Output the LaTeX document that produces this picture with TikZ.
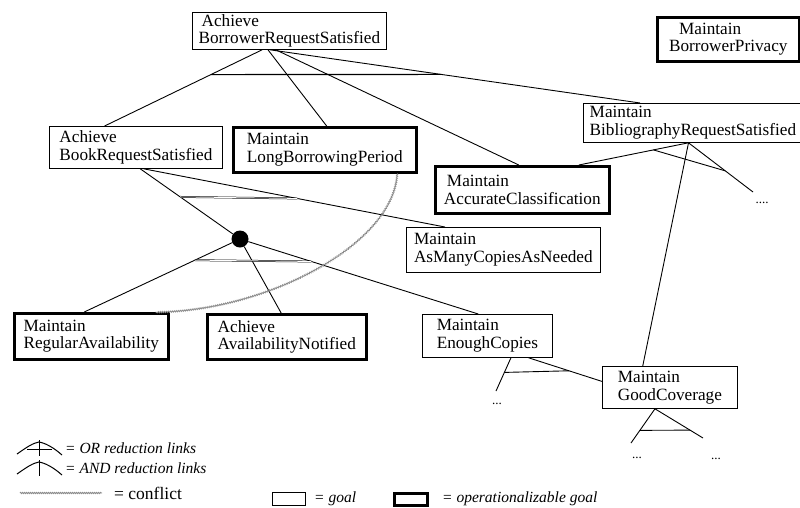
\documentclass[tikz,border=0pt]{standalone}
\usepackage{fontspec}
\setmainfont{Liberation Serif}
\usetikzlibrary{calc,decorations.pathmorphing}
\begin{document}
\begin{tikzpicture}[x=1pt,y=-1pt,
  goal/.style={draw, line width=0.8pt, inner sep=0pt, align=left, anchor=north west, font={\fontsize{17.2}{17.6}\selectfont}},
  opgoal/.style={goal, line width=2.6pt},
  link/.style={line width=0.9pt},
  arcline/.style={line width=0.5pt, double, double distance=0.8pt},
  conflict/.style={draw=black!45, line width=0.8pt, decorate, decoration={snake, segment length=2pt, amplitude=0.7pt}},
  dots/.style={font={\fontsize{13}{13}\selectfont}, inner sep=0pt},
  legend/.style={font={\fontsize{15.5}{15.5}\selectfont\itshape}, anchor=base west, inner sep=0pt},
]
\useasboundingbox (0,0) rectangle (800,507);

% goals
\node[goal, minimum width=194pt, minimum height=37pt] (root) at (192,12) {\hspace{3pt}Achieve\\BorrowerRequestSatisfied};
\node[opgoal, minimum width=142pt, minimum height=44pt] (privacy) at (656,16) {\hspace{10pt}Maintain\\BorrowerPrivacy};
\node[goal, minimum width=219pt, minimum height=39pt] (biblio) at (583,103) {Maintain\\BibliographyRequestSatisfied};
\node[goal, minimum width=173pt, minimum height=42pt] (bookreq) at (49,126) {Achieve\\BookRequestSatisfied};
\node[opgoal, minimum width=183pt, minimum height=45pt] (longb) at (232,126) {Maintain\\LongBorrowingPeriod};
\node[opgoal, minimum width=174pt, minimum height=47pt] (accur) at (434,165) {\hspace{3pt}Maintain\\AccurateClassification};
\node[goal, minimum width=194pt, minimum height=45pt] (asmany) at (406,227) {Maintain\\AsManyCopiesAsNeeded};
\node[goal, minimum width=130pt, minimum height=43pt] (enough) at (422,314) {Maintain\\EnoughCopies};
\node[goal, minimum width=135pt, minimum height=42pt] (goodcov) at (602,366) {Maintain\\GoodCoverage};
\node[opgoal, minimum width=154pt, minimum height=46pt] (regular) at (13,312) {Maintain\\RegularAvailability};
\node[opgoal, minimum width=159pt, minimum height=45pt] (notified) at (206,313) {Achieve\\AvailabilityNotified};
\node[circle, fill=black, minimum size=17pt, inner sep=0pt] (dot) at (240,239) {};

% root reduction
\coordinate (rA) at ($(root.south west)!0.36!(root.south east)$);
\coordinate (rB) at ($(root.south west)!0.39!(root.south east)$);
\coordinate (rC) at ($(root.south west)!0.43!(root.south east)$);
\coordinate (rD) at ($(root.south west)!0.40!(root.south east)$);
\coordinate (bkT) at ($(bookreq.north west)!0.32!(bookreq.north east)$);
\coordinate (lbT) at ($(longb.north west)!0.51!(longb.north east)$);
\coordinate (acT) at ($(accur.north west)!0.48!(accur.north east)$);
\coordinate (biT) at ($(biblio.north west)!0.26!(biblio.north east)$);
\draw[link] (rA) -- (bkT);
\draw[link] (rB) -- (lbT);
\draw[link] (rC) -- (acT);
\draw[link] (rD) -- (biT);
\draw[line width=1.1pt] ($(rA)!0.325!(bkT)$) -- ($(rD)!0.463!(biT)$);

% bibliography reduction
\coordinate (biB) at ($(biblio.south west)!0.48!(biblio.south east)$);
\coordinate (gcT) at ($(goodcov.north west)!0.30!(goodcov.north east)$);
\coordinate (acT2) at ($(accur.north west)!0.82!(accur.north east)$);
\coordinate (bdots) at (753,192);
\draw[link] (biB) -- (gcT);
\draw[link] (biB) -- (acT2);
\draw[link] (biB) -- (bdots);
\draw[link] ($(biB)!0.32!(acT2)$) -- ($(biB)!0.57!(bdots)$);
\node[dots] (bd) at (762,203) {....};

% book request reduction
\coordinate (bkB1) at ($(bookreq.south west)!0.525!(bookreq.south east)$);
\coordinate (bkB2) at ($(bookreq.south west)!0.545!(bookreq.south east)$);
\coordinate (amT) at ($(asmany.north west)!0.20!(asmany.north east)$);
\draw[link] (bkB1) -- (dot);
\draw[link] (bkB2) -- (amT);
\draw[arcline] ($(bkB1)!0.40!(dot.center)$) -- ($(bkB2)!0.51!(amT)$);

% dot reduction
\coordinate (raT) at ($(regular.north west)!0.455!(regular.north east)$);
\coordinate (anT) at ($(notified.north west)!0.465!(notified.north east)$);
\coordinate (ecT) at ($(enough.north west)!0.43!(enough.north east)$);
\draw[link] (dot) -- (raT);
\draw[link] (dot) -- (anT);
\draw[link] (dot) -- (ecT);
\draw[arcline] ($(dot.center)!0.29!(raT)$) -- ($(dot.center)!0.30!(ecT)$);

% enough copies reduction
\coordinate (ecB1) at ($(enough.south west)!0.68!(enough.south east)$);
\coordinate (ecB2) at ($(enough.south west)!0.815!(enough.south east)$);
\coordinate (edots) at (496,391);
\coordinate (gcL) at ($(goodcov.north west)!0.36!(goodcov.south west)$);
\draw[link] (ecB1) -- (edots);
\draw[link] (ecB2) -- (gcL);
\draw[link] ($(ecB1)!0.44!(edots)$) -- ($(ecB2)!0.55!(gcL)$);
\node[dots] (ed) at (497,404) {...};

% good coverage reduction
\coordinate (gcB) at ($(goodcov.south west)!0.39!(goodcov.south east)$);
\coordinate (gd1) at (631,443);
\coordinate (gd2) at (703,438);
\draw[link] (gcB) -- (gd1);
\draw[link] (gcB) -- (gd2);
\draw[link] ($(gcB)!0.63!(gd1)$) -- ($(gcB)!0.73!(gd2)$);
\node[dots] (gda) at (637,458) {...};
\node[dots] (gdb) at (716,459) {...};

% conflict
\coordinate (lbB) at ($(longb.south west)!0.89!(longb.south east)$);
\coordinate (raT2) at ($(regular.north west)!0.91!(regular.north east)$);
\draw[conflict] (lbB) .. controls (393,245) and (265,311) .. (raT2);

% legend
\draw[line width=1pt] (17,454) .. controls (27,447) and (33,443) .. (39,442) .. controls (45,443) and (53,447) .. (62,455);
\draw[line width=0.7pt] (27,449) -- (52,449);
\draw[line width=1pt] (39,440) -- (39,456);
\draw[line width=1pt] (17,474) .. controls (27,467) and (33,463) .. (39,462) .. controls (45,463) and (53,467) .. (62,475);
\draw[arcline] (27,468.5) -- (52,468.5);
\draw[line width=1pt] (39,460) -- (39,476);
\node[legend] (lor) at (65,453) {= OR reduction links};
\node[legend] (land) at (65,473) {= AND reduction links};
\coordinate (cfa) at (20,493);
\coordinate (cfb) at (102,493);
\draw[conflict] (cfa) -- (cfb);
\node[anchor=base west, inner sep=0pt, font={\fontsize{17.5}{17.5}\selectfont}] (lconf) at (114,499) {= conflict};
\node[draw, line width=0.8pt, minimum width=33pt, minimum height=13pt, inner sep=0pt, anchor=north west] (lgoal) at (272,492) {};
\node[legend] (lgoalt) at (314,502) {= goal};
\node[draw, line width=2.6pt, minimum width=33pt, minimum height=12pt, inner sep=0pt, anchor=north west] (lop) at (393,492) {};
\node[legend] (lopt) at (442,502) {= operationalizable goal};
\end{tikzpicture}
\end{document}
